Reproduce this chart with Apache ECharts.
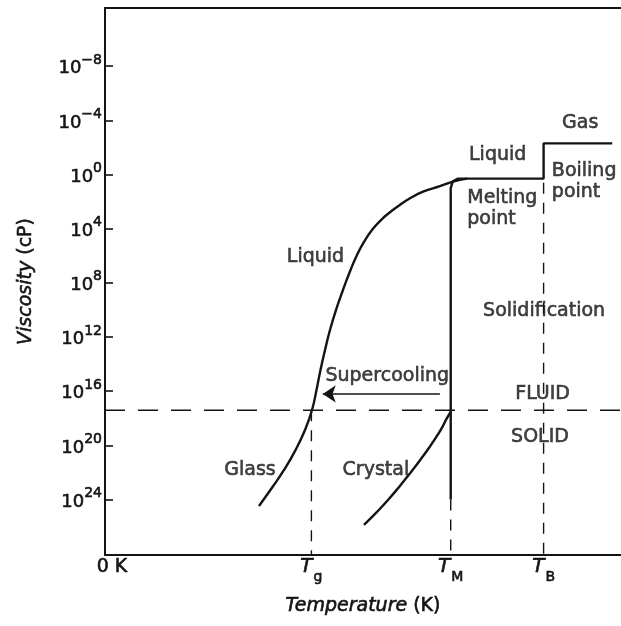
<!DOCTYPE html>
<html>
<head>
<meta charset="utf-8">
<title>Viscosity versus temperature</title>
<script src="https://cdn.jsdelivr.net/npm/echarts@6.0.0/dist/echarts.min.js"></script>
<style>
  html, body { margin: 0; padding: 0; background: #ffffff; }
  #chart { width: 621px; height: 626px; }
</style>
</head>
<body>
<div id="chart"></div>
<script>
// Temperature in arbitrary units (0 K at the origin); viscosity as log10(cP).
const yTickValues = [-8, -4, 0, 4, 8, 12, 16, 20, 24];
const xTickValues = [0, 40, 67, 85];          // 0 K, Tg, TM, TB
const xTickLabels = ['{n|0 K}', '{t|T}{s|g}', '{t|T}{s|M}', '{t|T}{s|B}'];

// supercooled liquid cooling into a glass
const glassLiquidCurve = [
  [29.84, 24.48], [32.46, 23.08], [34.69, 21.82], [36.92, 20.35], [38.76, 18.87],
  [40.12, 17.39], [40.99, 15.91], [41.76, 14.43], [42.64, 12.96], [43.60, 11.48],
  [44.77, 10.0], [46.12, 8.53], [47.58, 7.05], [48.84, 5.94], [50.19, 4.98],
  [51.74, 4.10], [53.49, 3.36], [55.04, 2.84], [56.59, 2.40], [59.11, 1.75],
  [61.63, 1.27], [64.92, 0.85], [67.44, 0.52], [70.16, 0.3]
];

// crystalline solid below the melting point
const crystalCurve = [
  [50.19, 25.88], [52.71, 24.92], [54.84, 24.04], [57.15, 23.0], [59.17, 22.04],
  [61.09, 21.08], [62.91, 20.12], [64.21, 19.38], [65.37, 18.65], [66.18, 18.05],
  [67.0, 17.54]
];

// solidification at TM, liquid plateau, boiling step at TB, gas
const equilibriumPath = [
  [67, 24.0], [67, 1.0], [67.4, 0.5], [68.4, 0.3], [85, 0.3], [85, -2.3], [98.3, -2.3]
];

const fluidSolidLevel = 17.4;                 // log10 viscosity separating fluid and solid
const supercoolingArrow = [[64.9, 16.2], [42.2, 16.2]];

// text placed in data units: [text, temperature, log viscosity, align]
const annotations = [
  ['Gas', 92.1, -3.8, 'center'],
  ['Liquid', 76.1, -1.45, 'center'],
  ['Boiling\npoint', 86.6, 0.55, 'left'],
  ['Melting\npoint', 70.2, 2.5, 'left'],
  ['Liquid', 40.8, 6.1, 'center'],
  ['Solidification', 85.1, 10.1, 'center'],
  ['Supercooling', 54.7, 14.9, 'center'],
  ['FLUID', 84.8, 16.2, 'center'],
  ['SOLID', 84.3, 19.4, 'center'],
  ['Glass', 28.1, 21.8, 'center'],
  ['Crystal', 52.5, 21.8, 'center']
];

const X_MIN = 0, X_MAX = 100, Y_MIN = -12.3, Y_MAX = 28.1;
const INK = '#141414';
const TEXT = '#141414';
const FONT = 'DejaVu Sans';
// a hairline outline gives the type the weight of printed lettering
const heavy = { textBorderColor: TEXT, textBorderWidth: 0.6 };

const Tg = xTickValues[1], TM = xTickValues[2], TB = xTickValues[3];

const dashedH = { color: INK, width: 1.5, type: [20, 13] };
const dashedV = { color: INK, width: 1.4, type: [11, 9] };
const solid = { color: INK, width: 2.4 };

function lineSeries(data, style, smooth) {
  return {
    type: 'line',
    data: data,
    smooth: smooth || false,
    showSymbol: false,
    symbol: 'none',
    lineStyle: style,
    silent: true,
    z: 3
  };
}

function textStyle(size, extra) {
  return Object.assign({ fontFamily: FONT, fontSize: size, color: TEXT }, heavy, extra || {});
}

const chart = echarts.init(document.getElementById('chart'), null, { renderer: 'canvas' });

chart.setOption({
  animation: false,
  backgroundColor: '#ffffff',
  grid: { left: 105, right: 0, top: 8, bottom: 71 },
  xAxis: [
    {
      type: 'value',
      min: X_MIN,
      max: X_MAX,
      name: '{i|Temperature} (K)',
      nameLocation: 'middle',
      nameGap: 42,
      nameTextStyle: textStyle(19, { rich: { i: textStyle(19, { fontStyle: 'italic' }) } }),
      axisLine: { show: true, onZero: false, lineStyle: { color: INK, width: 2 } },
      axisTick: { show: false },
      splitLine: { show: false },
      axisLabel: {
        customValues: xTickValues,
        margin: 12,
        verticalAlign: 'middle',
        formatter: function (v) {
          const i = xTickValues.indexOf(v);
          return i >= 0 ? xTickLabels[i] : '';
        },
        rich: {
          n: textStyle(19, { padding: [0, 0, 0, 14] }),
          t: textStyle(20, { fontStyle: 'italic' }),
          s: textStyle(14, { padding: [20, 0, 0, 1] })
        }
      }
    },
    {
      type: 'value',
      position: 'top',
      min: X_MIN,
      max: X_MAX,
      axisLine: { show: true, onZero: false, lineStyle: { color: INK, width: 2 } },
      axisTick: { show: false },
      axisLabel: { show: false },
      splitLine: { show: false }
    }
  ],
  yAxis: {
    type: 'value',
    inverse: true,
    min: Y_MIN,
    max: Y_MAX,
    name: '{i|Viscosity} (cP)',
    nameLocation: 'middle',
    nameRotate: 90,
    nameGap: 69,
    nameTextStyle: textStyle(19, { rich: { i: textStyle(19, { fontStyle: 'italic' }) } }),
    axisLine: { show: true, onZero: false, lineStyle: { color: INK, width: 2 } },
    axisTick: {
      show: true,
      inside: true,
      length: 8,
      customValues: yTickValues,
      lineStyle: { color: INK, width: 1.6 }
    },
    splitLine: { show: false },
    axisLabel: {
      customValues: yTickValues,
      margin: 3,
      formatter: function (v) {
        const exp = v < 0 ? '\u2212' + Math.abs(v) : String(v);
        return '{b|10}{s|' + exp + '}';
      },
      rich: {
        b: textStyle(18, { padding: [5, 0, 0, 0] }),
        s: textStyle(14, { padding: [0, 0, 12, 0] })
      }
    }
  },
  series: [
    lineSeries([[X_MIN, fluidSolidLevel], [X_MAX, fluidSolidLevel]], dashedH),
    lineSeries([[Tg, fluidSolidLevel], [Tg, Y_MAX]], dashedV),
    lineSeries([[TM, equilibriumPath[0][1]], [TM, Y_MAX]], dashedV),
    lineSeries([[TB, 0.6], [TB, Y_MAX]], dashedV),
    lineSeries(glassLiquidCurve, solid, 0.5),
    lineSeries(crystalCurve, solid, 0.5),
    lineSeries(equilibriumPath, solid),
    {
      type: 'lines',
      coordinateSystem: 'cartesian2d',
      silent: true,
      symbol: ['none', 'arrow'],
      symbolSize: [0, 13],
      lineStyle: { color: INK, width: 1.7, opacity: 1 },
      data: [{ coords: supercoolingArrow }],
      z: 4
    },
    {
      type: 'scatter',
      silent: true,
      symbolSize: 0,
      z: 5,
      data: annotations.map(function (a) {
        return { name: a[0], value: [a[1], a[2]], label: { align: a[3] } };
      }),
      label: Object.assign({
        show: true,
        position: 'inside',
        formatter: function (p) { return p.name; },
        lineHeight: 21
      }, textStyle(19))
    }
  ]
});
</script>
</body>
</html>
